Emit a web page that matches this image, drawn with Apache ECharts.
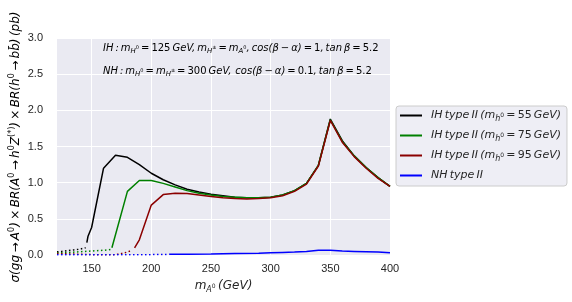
<!DOCTYPE html>
<html><head><meta charset="utf-8">
<script src="https://cdn.jsdelivr.net/npm/echarts@6/dist/echarts.min.js"></script>
<style>html,body{margin:0;padding:0;background:#fff}#c{width:572px;height:302px}</style>
</head><body><div id="c"></div>
<script>
// ---- data ----
const xTicks = [150, 200, 250, 300, 350, 400];
const yTicks = [0.0, 0.5, 1.0, 1.5, 2.0, 2.5, 3.0];

// m_h0 = 55 GeV (black)
const ih55DotX = [121, 125, 130, 135, 140, 145];
const ih55DotY = [0.045, 0.05, 0.06, 0.07, 0.08, 0.10];
const ih55X = [146, 147, 150, 160, 170, 180, 190, 200, 210, 220, 230, 240, 250, 260, 270, 280, 290, 300, 310, 320, 330, 340, 350, 360, 370, 380, 390, 400];
const ih55Y = [0.17, 0.26, 0.38, 1.20, 1.38, 1.35, 1.25, 1.13, 1.04, 0.97, 0.91, 0.87, 0.84, 0.82, 0.80, 0.79, 0.79, 0.80, 0.83, 0.89, 0.99, 1.24, 1.88, 1.58, 1.37, 1.21, 1.07, 0.95];

// m_h0 = 75 GeV (green)
const ih75DotX = [121, 130, 140, 150, 160, 167];
const ih75DotY = [0.03, 0.035, 0.045, 0.055, 0.065, 0.077];
const ih75X = [167, 180, 190, 200, 210, 220, 230, 240, 250, 260, 270, 280, 290, 300, 310, 320, 330, 340, 350, 360, 370, 380, 390, 400];
const ih75Y = [0.10, 0.88, 1.03, 1.03, 0.99, 0.94, 0.89, 0.855, 0.83, 0.81, 0.80, 0.79, 0.79, 0.80, 0.83, 0.89, 0.99, 1.24, 1.87, 1.57, 1.37, 1.21, 1.07, 0.95];

// m_h0 = 95 GeV (dark red)
const ih95DotX = [121, 130, 140, 150, 160, 170, 175, 180, 184];
const ih95DotY = [0.02, 0.015, 0.01, 0.005, 0.003, 0.005, 0.02, 0.04, 0.07];
const ih95X = [186, 190, 200, 210, 220, 230, 240, 250, 260, 270, 280, 290, 300, 310, 320, 330, 340, 350, 360, 370, 380, 390, 400];
const ih95Y = [0.10, 0.21, 0.69, 0.835, 0.855, 0.85, 0.83, 0.81, 0.79, 0.78, 0.775, 0.78, 0.79, 0.82, 0.88, 0.98, 1.23, 1.86, 1.56, 1.36, 1.20, 1.06, 0.95];

// NH (blue)
const nhDotX = [121, 140, 160, 180, 200, 215];
const nhDotY = [0.005, 0.005, 0.005, 0.005, 0.005, 0.008];
const nhX = [215, 230, 250, 270, 290, 300, 310, 320, 330, 340, 350, 360, 370, 380, 390, 400];
const nhY = [0.01, 0.012, 0.015, 0.02, 0.025, 0.03, 0.035, 0.04, 0.05, 0.065, 0.065, 0.055, 0.05, 0.045, 0.04, 0.03];

const S = '\u2009'; // thin space (mathtext spacing)
const legendNames = ['IH55', 'IH75', 'IH95', 'NH'];
const legendLabels = {
  IH55: '{i|IH' + S + 'type' + S + 'II' + S + '(m}{sb|h}{sp|0}{i|' + S + '=' + S + '}{r|55}{i|' + S + 'GeV)}',
  IH75: '{i|IH' + S + 'type' + S + 'II' + S + '(m}{sb|h}{sp|0}{i|' + S + '=' + S + '}{r|75}{i|' + S + 'GeV)}',
  IH95: '{i|IH' + S + 'type' + S + 'II' + S + '(m}{sb|h}{sp|0}{i|' + S + '=' + S + '}{r|95}{i|' + S + 'GeV)}',
  NH: '{i|NH' + S + 'type' + S + 'II}'
};

// ---- build ----
const pairs = (xs, ys) => xs.map((x, i) => [x, ys[i]]);
const TXT = '#262626';
const MF = 'DejaVu Sans';

function solid(name, color, xs, ys) {
  return { name, type: 'line', data: pairs(xs, ys), showSymbol: false, color,
    lineStyle: { color, width: 1.5 }, silent: true };
}
function dotted(name, color, xs, ys) {
  return { name, type: 'line', data: pairs(xs, ys), showSymbol: false, color,
    lineStyle: { color, width: 1.5, type: [1.5, 2.5] }, silent: true };
}

function mathRich(size) {
  return {
    i: { fontFamily: MF, fontStyle: 'italic', fontSize: size, color: TXT, lineHeight: size + 4 },
    r: { fontFamily: MF, fontSize: size, color: TXT, lineHeight: size + 4 },
    sb: { fontFamily: MF, fontStyle: 'italic', fontSize: Math.round(size * 0.7), color: TXT, lineHeight: size * 0.7 + 1, verticalAlign: 'bottom' },
    sp: { fontFamily: MF, fontSize: Math.round(size * 0.5), color: TXT, lineHeight: size * 0.5 + 6, verticalAlign: 'middle' },
    su: { fontFamily: MF, fontSize: Math.round(size * 0.7), color: TXT, lineHeight: size * 0.7 + 2, verticalAlign: 'top' }
  };
}

const line1 = '{i|IH' + S + ':' + S + 'm}{sb|H}{sp|0}{i|' + S + '=' + S + '}{r|125}{i|' + S + 'GeV,' + S + 'm}{sb|H}{sp|±}{i|' + S + '=' + S + 'm}{sb|A}{sp|0}{i|,' + S + 'cos(β' + S + '−' + S + 'α)' + S + '=' + S + '}{r|1}{i|,' + S + 'tan' + S + 'β' + S + '=' + S + '}{r|5.2}';
const line2 = '{i|NH' + S + ':' + S + 'm}{sb|H}{sp|0}{i|' + S + '=' + S + 'm}{sb|H}{sp|±}{i|' + S + '=' + S + '}{r|300}{i|' + S + 'GeV,' + S + S + 'cos(β' + S + '−' + S + 'α)' + S + '=' + S + '}{r|0.1}{i|,' + S + 'tan' + S + 'β' + S + '=' + S + '}{r|5.2}';
const yTitle = '{i|σ(gg' + S + '→' + S + 'A}{su|0}{i|)' + S + '×' + S + 'BR(A}{su|0}{i|' + S + '→' + S + 'h}{su|0}{i|Z}{su|(*)}{i|)' + S + '×' + S + 'BR(h}{su|0}{i|' + S + '→' + S + 'bb̄)' + S + '(pb)}';

const chart = echarts.init(document.getElementById('c'), null, { renderer: 'canvas' });
chart.setOption({
  animation: false,
  backgroundColor: '#ffffff',
  grid: { left: 57, top: 38, right: 182, bottom: 47, backgroundColor: '#eaeaf2', show: true, borderWidth: 0 },
  xAxis: {
    type: 'value', min: 121, max: 400,
    axisLine: { show: false }, axisTick: { show: false, customValues: xTicks },
    axisLabel: { customValues: xTicks, color: TXT, fontFamily: 'Liberation Sans', fontSize: 11, margin: 8 },
    splitLine: { show: true, lineStyle: { color: '#ffffff', width: 1 } },
    name: '{i|m}{sb|A}{sp|0}{i|' + S + '(GeV)}', nameLocation: 'middle', nameGap: 23,
    nameTextStyle: { rich: mathRich(12) }
  },
  yAxis: {
    type: 'value', min: 0, max: 3, interval: 0.5,
    axisLine: { show: false }, axisTick: { show: false },
    axisLabel: { color: TXT, fontFamily: 'Liberation Sans', fontSize: 11, margin: 14, formatter: v => v.toFixed(1) },
    splitLine: { show: true, lineStyle: { color: '#ffffff', width: 1 } }
  },
  legend: {
    data: legendNames, orient: 'vertical', left: 396, top: 106,
    backgroundColor: 'rgba(234,234,242,0.8)', borderColor: '#cccccc', borderWidth: 1, borderRadius: 3,
    padding: [4, 6, 5, 4], itemWidth: 22, itemHeight: 2, itemGap: 7, icon: 'rect',
    formatter: n => legendLabels[n],
    textStyle: { rich: mathRich(11), padding: [0, 0, 0, 4] }
  },
  series: [
    dotted('d55', '#000000', ih55DotX, ih55DotY),
    dotted('d75', '#008000', ih75DotX, ih75DotY),
    dotted('d95', '#8b0000', ih95DotX, ih95DotY),
    dotted('dNH', '#0000ff', nhDotX, nhDotY),
    solid('IH55', '#000000', ih55X, ih55Y),
    solid('IH75', '#008000', ih75X, ih75Y),
    solid('IH95', '#8b0000', ih95X, ih95Y),
    solid('NH', '#0000ff', nhX, nhY)
  ],
  graphic: [
    { type: 'text', x: 103, y: 48, z: 100, silent: true,
      style: { text: line1, rich: mathRich(10), verticalAlign: 'middle', align: 'left' } },
    { type: 'text', x: 103, y: 71, z: 100, silent: true,
      style: { text: line2, rich: mathRich(10), verticalAlign: 'middle', align: 'left' } },
    { type: 'text', x: 16, y: 147, z: 100, rotation: Math.PI / 2, silent: true,
      style: { text: yTitle, rich: mathRich(12), verticalAlign: 'middle', align: 'center' } }
  ]
});
</script></body></html>
